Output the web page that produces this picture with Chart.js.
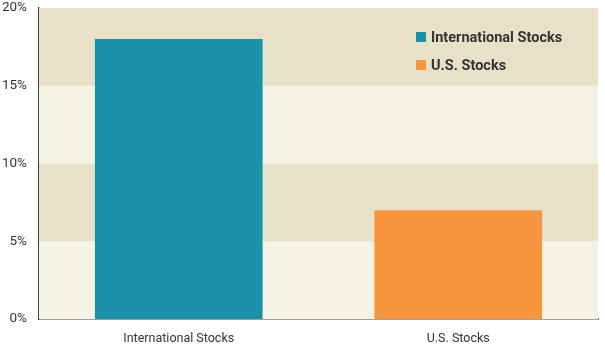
<!DOCTYPE html>
<html lang="en">
<head>
    <meta charset="UTF-8">
    <title>Stocks</title>
    <script src="https://cdn.jsdelivr.net/npm/chart.js@4.4.0/dist/chart.umd.min.js"></script>
    <style>
        body { margin: 0; background: #fff; }
        #wrap { position: relative; width: 605px; height: 349px; }
        #legend { position: absolute; left: 416px; top: 29px; font-family: Roboto, "Liberation Sans", sans-serif;
            font-weight: bold; font-size: 14.5px; color: #333; }
        #legend div { height: 28px; line-height: 17px; }
        #legend span.box { display: inline-block; width: 10px; height: 10px; margin-right: 5px; vertical-align: 0px; }
    </style>
</head>
<body>
    <div id="wrap">
        <canvas id="mychart" width="605" height="349"></canvas>
        <div id="legend"></div>
    </div>
    <script>
        var categories = ['International Stocks', 'U.S. Stocks'];
        var values = [18, 7];
        var barColors = ['#1a91a8', '#f7963e'];
        var yTicks = [0, 5, 10, 15, 20];

        // alternating background bands
        var bandPlugin = {
            id: 'bands',
            beforeDatasetsDraw: function (chart) {
                var c = chart.ctx, a = chart.chartArea, y = chart.scales.y;
                for (var i = 0; i < yTicks.length - 1; i++) {
                    var top = y.getPixelForValue(yTicks[i + 1]);
                    var bot = y.getPixelForValue(yTicks[i]);
                    c.fillStyle = (i % 2 == 0) ? '#f5f3e3' : '#e6e1c7';
                    c.fillRect(a.left, top, a.right - a.left, bot - top);
                }
            }
        };

        var legendHtml = '';
        categories.forEach(function (item, i) {
            legendHtml += '<div><span class="box" style="background:' + barColors[i] + '"></span>' + item + '</div>';
        });
        document.getElementById('legend').innerHTML = legendHtml;

        var fam = 'Roboto, "Liberation Sans", sans-serif';

        new Chart(document.getElementById('mychart'), {
            type: 'bar',
            data: {
                labels: categories,
                datasets: [{
                    data: values,
                    backgroundColor: barColors,
                    categoryPercentage: 0.6,
                    barPercentage: 1
                }]
            },
            options: {
                responsive: false,
                animation: false,
                layout: { padding: { top: 8, right: 7, left: 0, bottom: 0 } },
                plugins: { legend: { display: false }, tooltip: { enabled: false } },
                scales: {
                    x: {
                        grid: { display: false },
                        border: { color: '#444', width: 1.5 },
                        ticks: { color: '#333', font: { family: fam, size: 12.5 }, padding: 4 },
                        afterFit: function (s) { s.height = 30; }
                    },
                    y: {
                        min: 0, max: 20,
                        grid: { display: false },
                        border: { color: '#444', width: 1.5 },
                        ticks: {
                            stepSize: 5, color: '#333', font: { family: fam, size: 13.5 }, padding: 4,
                            callback: function (v) { return v + '%'; }
                        },
                        afterFit: function (s) { s.width = 39; s.paddingTop = 0; s.paddingBottom = 0; }
                    }
                }
            },
            plugins: [bandPlugin]
        });
    </script>
</body>
</html>
